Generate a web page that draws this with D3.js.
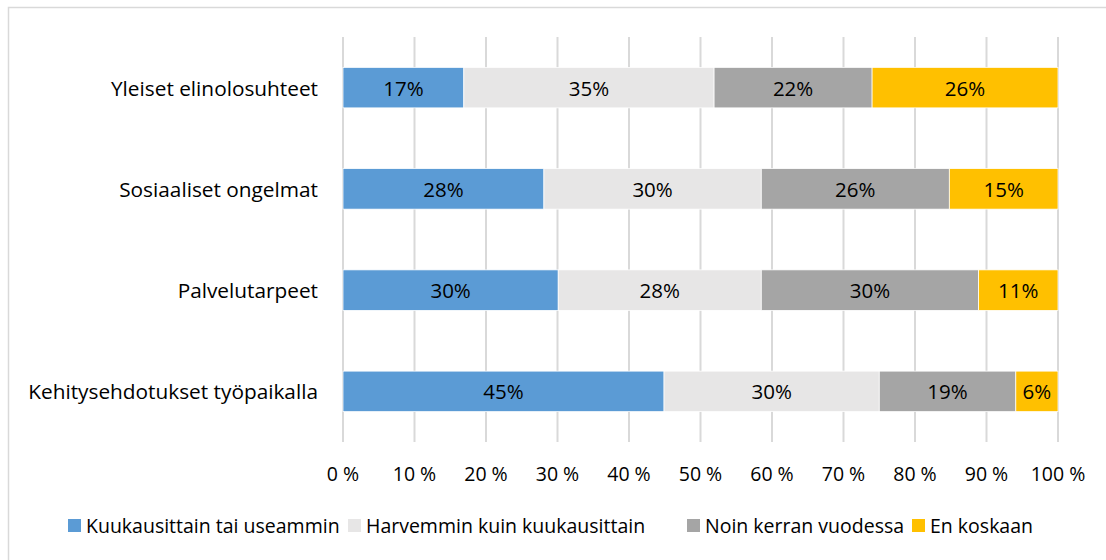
<!DOCTYPE html>
<html>
  <head>
    <meta charset="utf-8">
    <script type="text/javascript" src="https://cdn.jsdelivr.net/npm/d3@7"></script>
    <style>
      body { margin: 0; background: #fff; }
      text { font-family: "Open Sans", sans-serif; fill: #000; }
    </style>
  </head>
  <body>
  <script type="text/javascript">

    // data
    var categories = ["Yleiset elinolosuhteet", "Sosiaaliset ongelmat", "Palvelutarpeet", "Kehitysehdotukset työpaikalla"];
    var series = ["Kuukausittain tai useammin", "Harvemmin kuin kuukausittain", "Noin kerran vuodessa", "En koskaan"];
    var monthly = [16.9, 28.1, 30.1, 44.9];
    var lessOften = [35.0, 30.4, 28.4, 30.1];
    var yearly = [22.1, 26.3, 30.4, 19.1];
    var never = [26.0, 15.2, 11.1, 5.9];
    var xTicks = [0, 10, 20, 30, 40, 50, 60, 70, 80, 90, 100];
    var colors = ["#5b9bd5", "#e7e6e6", "#a5a5a5", "#ffc000"];

    var W = 1106, H = 560;
    var plot = {left: 343, right: 1058, top: 37, bottom: 442};
    var fs = "19.5px";

    var svg = d3.select("body").append("svg")
        .attr("width", W)
        .attr("height", H);

    // chart frame
    svg.append("rect")
        .attr("x", 8.5).attr("y", 7.5)
        .attr("width", 1110).attr("height", 570)
        .attr("fill", "#fff")
        .attr("stroke", "#d9d9d9")
        .attr("stroke-width", 1.5);

    var x = d3.scaleLinear().domain([0, 100]).range([plot.left, plot.right]);
    var y = d3.scaleBand().domain(categories).range([plot.top, plot.bottom]).paddingInner(0.6).paddingOuter(0.3);

    // gridlines
    svg.append("g").selectAll("line")
        .data(xTicks)
        .join("line")
        .attr("x1", d => x(d)).attr("x2", d => x(d))
        .attr("y1", plot.top).attr("y2", plot.bottom)
        .attr("stroke", "#d9d9d9")
        .attr("stroke-width", 2);

    // tick labels
    svg.append("g").selectAll("text")
        .data(xTicks)
        .join("text")
        .attr("x", d => x(d))
        .attr("y", 473)
        .attr("text-anchor", "middle")
        .attr("dominant-baseline", "central")
        .style("font-size", fs)
        .text(d => d + " %");

    // stack
    var table = categories.map(function(c, i){
      return {cat: c, s0: monthly[i], s1: lessOften[i], s2: yearly[i], s3: never[i]};
    });
    var stack = d3.stack().keys(["s0", "s1", "s2", "s3"])(table);

    var layers = svg.append("g").selectAll("g")
        .data(stack)
        .join("g")
        .attr("fill", (d, i) => colors[i]);

    layers.selectAll("rect")
        .data(d => d)
        .join("rect")
        .attr("x", d => x(d[0]))
        .attr("width", d => x(d[1]) - x(d[0]))
        .attr("y", d => y(d.data.cat))
        .attr("height", y.bandwidth())
        .attr("stroke", "#fff")
        .attr("stroke-width", 0.75);

    layers.selectAll("text")
        .data(d => d)
        .join("text")
        .attr("x", d => (x(d[0]) + x(d[1])) / 2)
        .attr("y", d => y(d.data.cat) + y.bandwidth() / 2)
        .attr("text-anchor", "middle")
        .attr("dominant-baseline", "central")
        .style("font-size", "20.5px")
        .text(d => Math.round(d[1] - d[0]) + "%");

    // category labels
    svg.append("g").selectAll("text")
        .data(categories)
        .join("text")
        .attr("x", 318)
        .attr("y", d => y(d) + y.bandwidth() / 2)
        .attr("text-anchor", "end")
        .attr("dominant-baseline", "central")
        .style("font-size", "20.8px")
        .text(d => d);

    // legend
    var legendX = [68, 348, 687, 912];
    var legend = svg.append("g").selectAll("g")
        .data(series)
        .join("g")
        .attr("transform", (d, i) => "translate(" + legendX[i] + ",519)");

    legend.append("rect")
        .attr("width", 13).attr("height", 13)
        .attr("fill", (d, i) => colors[i]);

    legend.append("text")
        .attr("x", 18)
        .attr("y", 6.5)
        .attr("dominant-baseline", "central")
        .style("font-size", fs)
        .text(d => d);

  </script>
  </body>
</html>
